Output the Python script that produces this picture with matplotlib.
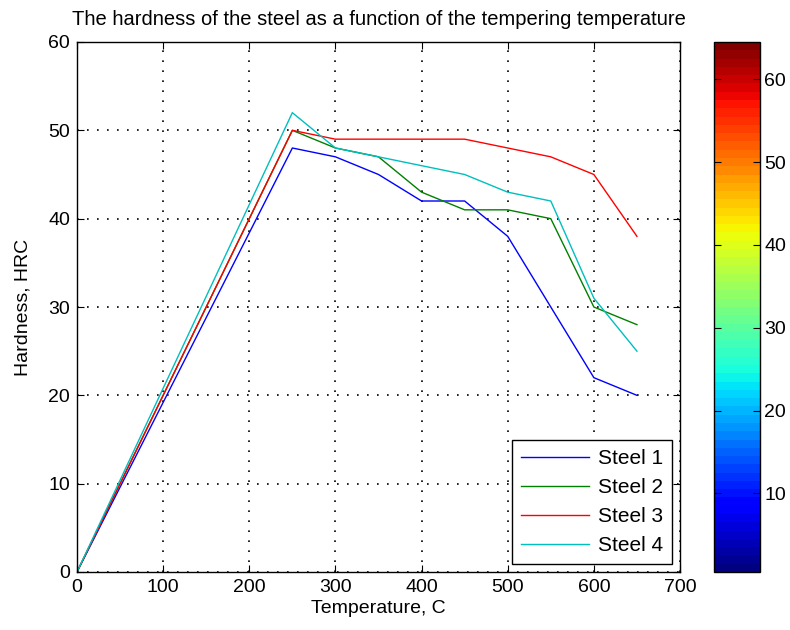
import numpy as np
import matplotlib
matplotlib.use("Agg")
import matplotlib.pyplot as plt
from matplotlib.colors import ListedColormap, BoundaryNorm
import matplotlib as mpl

plt.rcParams['font.family'] = ['Liberation Sans', 'DejaVu Sans']

temperature = [0, 250, 300, 350, 400, 450, 500, 550, 600, 650]
steel1 = [0, 48, 47, 45, 42, 42, 38, 30, 22, 20]
steel2 = [0, 50, 48, 47, 43, 41, 41, 40, 30, 28]
steel3 = [0, 50, 49, 49, 49, 49, 48, 47, 45, 38]
steel4 = [0, 52, 48, 47, 46, 45, 43, 42, 31, 25]
series_names = ['Steel 1', 'Steel 2', 'Steel 3', 'Steel 4']
series_colors = ['#0000ff', '#008000', '#ff0000', '#00bfbf']
xticks = [0, 100, 200, 300, 400, 500, 600, 700]
yticks = [0, 10, 20, 30, 40, 50, 60]
cbar_ticks = [10, 20, 30, 40, 50, 60]

FS = 14

fig = plt.figure(figsize=(7.9, 6.3), dpi=100)
ax = fig.add_axes([77/790, 58/630, 603/790, 530/630])

for ys, name, c in zip([steel1, steel2, steel3, steel4], series_names, series_colors):
    ax.plot(temperature, ys, color=c, lw=1.0, label=name)

ax.set_xlim(0, 700)
ax.set_ylim(0, 60)
ax.set_xticks(xticks)
ax.set_yticks(yticks)
ax.grid(True, color='black', linestyle=(0, (1, 5)), linewidth=1.2)
ax.tick_params(direction='in', top=True, right=True, labelsize=FS, length=5, pad=5)
for s in ax.spines.values():
    s.set_linewidth(1.0)
ax.set_xlabel('Temperature, C', fontsize=FS, labelpad=3)
ax.set_ylabel('Hardness, HRC', fontsize=FS, labelpad=12)
ax.set_title('The hardness of the steel as a function of the tempering temperature',
             fontsize=14.5, pad=12)
leg = ax.legend(loc='lower right', fontsize=15, fancybox=False, edgecolor='black',
                framealpha=1, handlelength=3.3, handletextpad=0.4,
                borderaxespad=0.4, labelspacing=0.48, borderpad=0.42)
leg.get_frame().set_linewidth(1.0)

cax = fig.add_axes([714/790, 58/630, 46/790, 530/630])
cmap = ListedColormap(plt.get_cmap('jet')(np.linspace(0, 1, 64)))
norm = BoundaryNorm(np.arange(0.5, 65.5, 1), 64)
cb = fig.colorbar(mpl.cm.ScalarMappable(norm=norm, cmap=cmap), cax=cax)
cb.set_ticks(cbar_ticks)
cb.minorticks_off()
cb.ax.tick_params(direction='in', left=True, right=True, labelsize=FS, length=5, pad=3)
cb.outline.set_linewidth(1.0)

fig.savefig('out.png', dpi=100)
